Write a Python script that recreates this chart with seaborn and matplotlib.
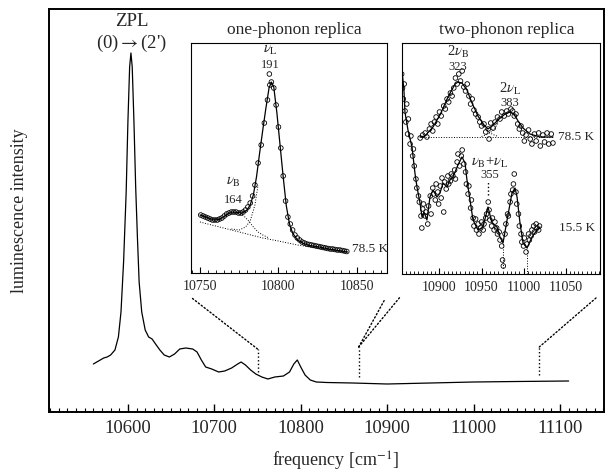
import numpy as np
import seaborn as sns
import matplotlib
matplotlib.use("Agg")
import matplotlib.pyplot as plt
from matplotlib.ticker import MultipleLocator
from matplotlib.patches import ConnectionPatch

# --- full spectrum (main panel) ---
freq_main = [10560, 10566, 10572, 10576, 10580, 10585, 10589, 10592, 10595, 10598, 10600,
             10602, 10603.5, 10605, 10607, 10609, 10611, 10613, 10616, 10620, 10624, 10628,
             10632, 10637, 10642, 10648, 10654, 10660, 10667, 10675, 10680, 10685, 10690,
             10697, 10705, 10712, 10720, 10727, 10731, 10736, 10742, 10748, 10755, 10762,
             10770, 10780, 10787, 10792, 10796, 10800, 10805, 10811, 10818, 10830, 10860,
             10900, 10950, 11000, 11050, 11110]
int_main = [48, 51, 54, 55, 57, 62, 75, 100, 150, 220, 290,
            345, 359, 345, 290, 225, 175, 130, 100, 82, 75, 73,
            68, 62, 57, 55, 58, 63, 64, 63, 60, 52, 45,
            43, 40, 41, 44, 48, 50, 47, 42, 38, 35, 33,
            35, 36, 40, 48, 52, 45, 37, 32, 30, 29.5, 29,
            28, 29, 30, 30.5, 31]

# zoom windows marked on the main spectrum
zoom_x = [10750, 10867, 11076]
zoom_lo = [40, 35, 37]
zoom_hi = [63, 65, 65]

# --- one-phonon replica (78.5 K) ---
op_x = [10750.5, 10752, 10753.5, 10755, 10756.5, 10758, 10759.5, 10761, 10762.5, 10764,
        10765.5, 10767, 10768.5, 10770, 10771.5, 10773, 10774.5, 10776, 10777.5, 10779,
        10780.5, 10782, 10783.5, 10785, 10787, 10789, 10791, 10793, 10794.2, 10794.5,
        10795.5, 10797, 10798.5, 10800, 10801.5, 10803, 10804.5, 10806, 10807.5, 10809,
        10810.5, 10812, 10813.5, 10815, 10816.5, 10818, 10819.5, 10821, 10822.5, 10824,
        10825.5, 10827, 10828.5, 10830, 10831.5, 10833, 10834.5, 10836, 10837.5, 10839,
        10840.5, 10842, 10843.5]
op_y = [58, 57, 56, 55, 54, 53, 53, 53, 54, 55,
        57, 59, 60, 61, 61, 61, 60, 60, 61, 63,
        66, 70, 77, 88, 110, 128, 150, 173, 199, 188,
        191, 185, 168, 146, 125, 97, 72, 56, 49, 43,
        38, 35, 33, 31, 30, 29, 28.5, 28, 27.5, 27,
        26.5, 26, 25.5, 25, 24.5, 24, 24, 23.5, 23, 23,
        22.5, 22, 21.5]
op_fit_x = [10750, 10753, 10756, 10759, 10762, 10765, 10768, 10771, 10774, 10777, 10780,
            10782, 10784, 10786, 10788, 10790, 10792, 10794, 10795.5, 10797, 10799, 10801,
            10803, 10805, 10807, 10809, 10812, 10816, 10820, 10826, 10832, 10838, 10844]
op_fit_y = [58, 56.5, 54.5, 53, 53.5, 56, 59.5, 61, 60.5, 60, 63,
            68, 78, 96, 120, 143, 165, 185, 191, 186, 160, 128,
            96, 67, 49, 40, 33, 29.5, 27.5, 26, 24, 22.5, 21]
op_base_x = [10750, 10760, 10770, 10780, 10790, 10800, 10812, 10825, 10835, 10844]
op_base_y = [51, 47, 43, 39, 35, 32, 28, 25, 23, 21]
op_b_x = [10774, 10778, 10781, 10784, 10787, 10790, 10794]
op_b_y = [60, 57, 52, 46, 41, 38, 35]
op_l_x = [10770, 10775, 10779, 10782, 10785, 10787]
op_l_y = [44, 43, 46, 52, 68, 88]

# --- two-phonon replica, 78.5 K ---
tp_hot_fit_x = [10876.8, 10882.7, 10892.3, 10900.6, 10910.1, 10918.5, 10922, 10926.8,
                10932.7, 10938.7, 10945.8, 10953, 10957.7, 10962.5, 10969.6, 10978, 10984,
                10988.7, 10993.5, 10999.4, 11007.7, 11019.6, 11035.1]
tp_hot_fit_y = [137, 138, 147, 159, 177, 190, 192, 191,
                184, 171, 158, 149, 145, 148, 154, 160, 162,
                160, 153, 146, 140, 137, 137]
tp_hot_x = [10877, 10880, 10883, 10885, 10888, 10890, 10892, 10894, 10896, 10898, 10900,
            10902, 10905, 10907, 10909, 10911, 10913, 10915, 10917, 10919, 10921, 10923,
            10925, 10927, 10929, 10931, 10933, 10935, 10937, 10939, 10941, 10943, 10946,
            10948, 10950, 10953, 10955, 10958, 10959, 10961, 10964, 10966, 10969, 10972,
            10974, 10977, 10980, 10982, 10985, 10987, 10989, 10991, 10993, 10995, 10997,
            10999, 11001, 11003, 11006, 11008, 11010, 11013, 11015, 11018, 11020, 11023,
            11025, 11028, 11030, 11033, 11035]
tp_hot_y = [136, 139, 141, 137, 145, 150, 143, 152, 157, 150, 162,
            158, 168, 165, 175, 172, 181, 178, 186, 196, 190, 200,
            193, 203, 187, 183, 190, 178, 170, 175, 164, 160, 157,
            152, 148, 150, 142, 145, 135, 151, 146, 152, 157, 155,
            162, 158, 163, 160, 165, 163, 158, 160, 150, 145, 148,
            141, 133, 139, 144, 135, 130, 140, 133, 141, 128, 139,
            132, 141, 130, 140, 131]
tp_hot_base_x = [10876.8, 11035.1]
tp_hot_base_y = [137, 137]
tp_hot_b_x = [10950, 10955, 10960, 10965, 10970]
tp_hot_b_y = [152, 145, 141, 139, 137.5]
tp_hot_l_x = [10950, 10955, 10960, 10965, 10970]
tp_hot_l_y = [137.5, 139, 141, 145, 151]

# --- two-phonon replica, 15.5 K ---
tp_cold_fit_x = [10855.4, 10857.7, 10858.9, 10862.5, 10867.3, 10870.8, 10873.2, 10876.8,
                 10879.2, 10881.5, 10885.1, 10888.7, 10892.3, 10897, 10900.6, 10904.2,
                 10908.9, 10912.5, 10916.1, 10922, 10926.8, 10930.4, 10932.7, 10936.3,
                 10939.9, 10945.8, 10951.8, 10957.7, 10962.5, 10968.5, 10972, 10975.6,
                 10980.4, 10986.3, 10989.9, 10992.3, 10995.8, 10999.4, 11004.2, 11010.1,
                 11016.1, 11019.6]
tp_cold_fit_y = [204, 184, 162, 144, 127, 101, 87, 71,
                 57, 62, 54, 77, 84, 77, 81, 91,
                 87, 94, 97, 109, 117, 111, 94, 74,
                 54, 44, 47, 67, 51, 47, 37, 31,
                 54, 81, 86, 77, 51, 31, 26, 37,
                 44, 47]
tp_cold_x = [10855, 10856, 10857, 10858, 10859, 10860, 10861, 10862, 10863, 10865, 10866,
             10868, 10869, 10870, 10872, 10873, 10875, 10876, 10878, 10879, 10880, 10881,
             10883, 10884, 10886, 10887, 10889, 10890, 10892, 10893, 10895, 10896, 10898,
             10899, 10901, 10902, 10903, 10905, 10906, 10908, 10910, 10911, 10913, 10914,
             10916, 10918, 10919, 10921, 10922, 10924, 10926, 10927, 10929, 10931, 10932,
             10934, 10935, 10937, 10938, 10940, 10941, 10943, 10944, 10946, 10947, 10949,
             10950, 10952, 10953, 10955, 10956, 10958, 10959, 10960, 10962, 10963, 10965,
             10966, 10968, 10969, 10971, 10972, 10974, 10975, 10976, 10978, 10979, 10981,
             10982, 10984, 10985, 10987, 10988, 10989, 10991, 10992, 10994, 10995, 10997,
             10998, 11000, 11001, 11003, 11004, 11006, 11007, 11009, 11010, 11012, 11013,
             11015, 11016, 11018, 11019]
tp_cold_y = [200, 186, 175, 190, 163, 152, 170, 140, 155, 130, 138,
             118, 125, 108, 95, 86, 78, 72, 58, 46, 65, 70,
             58, 62, 50, 68, 78, 60, 86, 80, 74, 90, 82,
             70, 88, 76, 96, 62, 92, 85, 98, 90, 93, 100,
             98, 104, 95, 112, 120, 108, 118, 124, 110, 102, 90,
             80, 88, 66, 74, 56, 48, 55, 44, 50, 40, 46,
             52, 44, 50, 56, 60, 72, 64, 54, 48, 56, 44,
             52, 46, 40, 42, 34, 28, 14, 8, 40, 50, 60,
             58, 72, 80, 84, 90, 100, 82, 70, 60, 48, 40,
             32, 28, 36, 22, 30, 40, 34, 38, 44, 48, 42,
             50, 46, 44, 48]
tp_cold_drop_x = [10975.6, 11004.2]
tp_cold_drop_top = [31, 26]
tp_cold_drop_bot = [6, 0]
sum_mark_x = 10957.7

sns.set_theme(style="ticks")
plt.rcParams["font.family"] = ["Liberation Serif", "DejaVu Serif"]
plt.rcParams["mathtext.fontset"] = "stix"

W, H = 611, 474
fig = plt.figure(figsize=(W / 100, H / 100), dpi=100)
fig.patch.set_facecolor("white")

def px_axes(l, t, r, b):
    return fig.add_axes([l / W, (H - b) / H, (r - l) / W, (b - t) / H])

# main panel
ax = px_axes(49, 9, 604, 412)
sns.lineplot(x=freq_main, y=int_main, ax=ax, color="black", linewidth=0.9)
ax.vlines(zoom_x, zoom_lo, zoom_hi, colors="black", linestyles=":", linewidth=1.0)
ax.set_xlim(10508.7, 11150.9)
ax.set_ylim(0, 403)
ax.set_yticks([])
ax.xaxis.set_major_locator(MultipleLocator(100))
ax.xaxis.set_minor_locator(MultipleLocator(10))
ax.tick_params(axis="x", which="both", direction="in", labelsize=13.5, pad=6, color="black")
ax.tick_params(axis="x", which="major", length=6, width=1.0)
ax.tick_params(axis="x", which="minor", length=3, width=0.8)
for s in ax.spines.values():
    s.set_linewidth(1.4)
    s.set_color("black")
ax.set_xlabel(r"frequency [cm$^{-1}$]", fontsize=13)
ax.xaxis.set_label_coords(0.517, -0.094)
ax.set_ylabel("luminescence intensity", fontsize=13)
ax.yaxis.set_label_coords(-0.038, 0.5)
ax.text(10604.6, 390, "ZPL", fontsize=13.5, ha="center", va="center")
ax.text(10604.6, 369, r"(0)$\rightarrow$(2')", fontsize=13.5, ha="center", va="center")

def style_inset(a, major):
    a.set_facecolor("white")
    a.set_yticks([])
    a.xaxis.set_major_locator(MultipleLocator(major))
    a.xaxis.set_minor_locator(MultipleLocator(5))
    a.tick_params(axis="x", which="both", direction="in", labelsize=10, pad=5, color="black")
    a.tick_params(axis="x", which="major", length=4, width=0.8)
    a.tick_params(axis="x", which="minor", length=2, width=0.6)
    for s in a.spines.values():
        s.set_linewidth(0.8)
        s.set_color("black")
    a.set_xlabel("")
    a.set_ylabel("")

def circles(a, x, y):
    sns.scatterplot(x=x, y=y, ax=a, marker="o", s=11, facecolors="none",
                    edgecolors="black", linewidths=0.6, zorder=3)

# one-phonon inset
ax1 = px_axes(191, 43, 387, 273)
sns.lineplot(x=op_fit_x, y=op_fit_y, ax=ax1, color="black", linewidth=0.9)
for xs, ys in [(op_base_x, op_base_y), (op_b_x, op_b_y), (op_l_x, op_l_y)]:
    sns.lineplot(x=xs, y=ys, ax=ax1, color="black", linewidth=0.7, linestyle=":")
circles(ax1, op_x, op_y)
ax1.set_xlim(10744.3, 10869.1)
ax1.set_ylim(0, 230)
style_inset(ax1, 50)
ax1.text(0.525, 1.057, "one-phonon replica", transform=ax1.transAxes,
         fontsize=12.5, ha="center", va="center")
ax1.text(10794.9, 223, r"$\nu_{\rm L}$", fontsize=10.5, ha="center", va="center")
ax1.text(10794.9, 208, "191", fontsize=9, ha="center", va="center")
ax1.text(10771.3, 91, r"$\nu_{\rm B}$", fontsize=10.5, ha="center", va="center")
ax1.text(10771.3, 73, "164", fontsize=9, ha="center", va="center")
ax1.text(10846.5, 24, "78.5 K", fontsize=9.5, ha="left", va="center")

# two-phonon inset
ax2 = px_axes(402, 43, 600, 274)
sns.lineplot(x=tp_hot_fit_x, y=tp_hot_fit_y, ax=ax2, color="black", linewidth=0.9)
for xs, ys in [(tp_hot_base_x, tp_hot_base_y), (tp_hot_b_x, tp_hot_b_y), (tp_hot_l_x, tp_hot_l_y)]:
    sns.lineplot(x=xs, y=ys, ax=ax2, color="black", linewidth=0.7, linestyle=":")
circles(ax2, tp_hot_x, tp_hot_y)
sns.lineplot(x=tp_cold_fit_x, y=tp_cold_fit_y, ax=ax2, color="black", linewidth=0.9)
ax2.vlines(tp_cold_drop_x, tp_cold_drop_bot, tp_cold_drop_top, colors="black",
           linestyles=":", linewidth=0.7)
ax2.vlines([sum_mark_x], [79], [92], colors="black", linestyles=":", linewidth=1.0)
circles(ax2, tp_cold_x, tp_cold_y)
ax2.set_xlim(10855.4, 11091)
ax2.set_ylim(0, 231)
style_inset(ax2, 50)
ax2.text(0.53, 1.057, "two-phonon replica", transform=ax2.transAxes,
         fontsize=12.5, ha="center", va="center")
ax2.text(10922, 222, r"2$\nu_{\rm B}$", fontsize=10.5, ha="center", va="center")
ax2.text(10922, 207, "323", fontsize=9, ha="center", va="center")
ax2.text(10984, 185, r"2$\nu_{\rm L}$", fontsize=10.5, ha="center", va="center")
ax2.text(10984, 171, "383", fontsize=9, ha="center", va="center")
ax2.text(10960, 112, r"$\nu_{\rm B}$+$\nu_{\rm L}$", fontsize=10.5, ha="center", va="center")
ax2.text(10960, 99, "355", fontsize=9, ha="center", va="center")
ax2.text(11041, 137, "78.5 K", fontsize=9.5, ha="left", va="center")
ax2.text(11042, 46, "15.5 K", fontsize=9.5, ha="left", va="center")

# dotted connectors from the zoom marks to the insets
links = [(0, ax1, (0.005, -0.109)), (1, ax1, (0.99, -0.113)),
         (1, ax2, (-0.01, -0.10)), (2, ax2, (0.985, -0.10))]
for i, target, frac in links:
    con = ConnectionPatch(xyA=(zoom_x[i], zoom_hi[i]), coordsA=ax.transData,
                          xyB=frac, coordsB=target.transAxes,
                          linestyle=":", linewidth=1.0, color="black")
    fig.add_artist(con)

fig.savefig("out.png", dpi=100, facecolor="white")
